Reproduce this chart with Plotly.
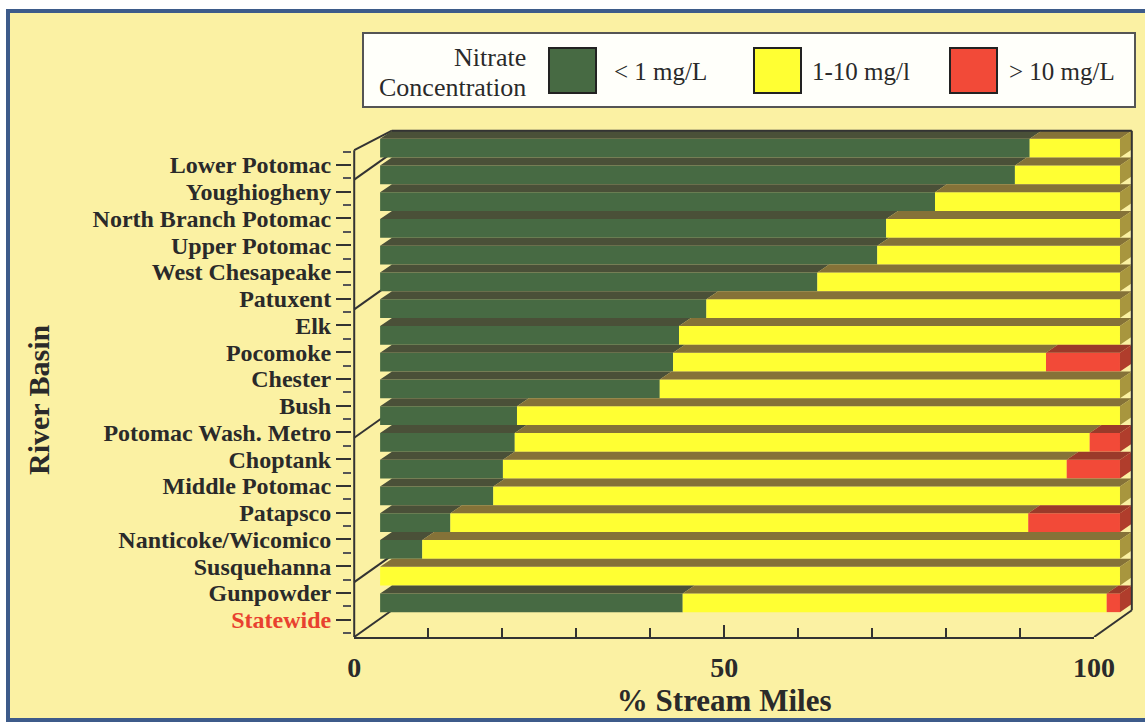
import plotly.graph_objects as go

# ---------------- data ----------------
basins = ["Lower Potomac", "Youghiogheny", "North Branch Potomac", "Upper Potomac",
          "West Chesapeake", "Patuxent", "Elk", "Pocomoke", "Chester", "Bush",
          "Potomac Wash. Metro", "Choptank", "Middle Potomac", "Patapsco",
          "Nanticoke/Wicomico", "Susquehanna", "Gunpowder", "Statewide"]
low_pct = [87.8, 85.8, 75.0, 68.4, 67.2, 59.1, 44.1, 40.4, 39.6, 37.8,
           18.5, 18.2, 16.6, 15.3, 9.5, 5.7, 0.0, 40.9]
mid_pct = [12.2, 14.2, 25.0, 31.6, 32.8, 40.9, 55.9, 59.6, 50.4, 62.2,
           81.5, 77.7, 76.2, 84.7, 78.1, 94.3, 100.0, 57.3]
high_pct = [0.0, 0.0, 0.0, 0.0, 0.0, 0.0, 0.0, 0.0, 10.0, 0.0,
            0.0, 4.1, 7.2, 0.0, 12.4, 0.0, 0.0, 1.8]
series_names = ["< 1 mg/L", "1-10 mg/l", "> 10 mg/L"]
legend_title = ["Nitrate", "Concentration"]
x_tick_vals = [0, 50, 100]
x_minor_step = 10
x_title = "% Stream Miles"
y_title = "River Basin"
highlight_basin = "Statewide"

# ---------------- style ----------------
W, H = 1145, 722
BG = "#fbf1a3"
TXT = "#2a2a2a"
front_colors = ["#476a43", "#ffff33", "#f24a38"]
top_colors = ["#4a5038", "#857238", "#9a3a2a"]
side_colors = ["#3e4a33", "#a8963e", "#b03d2c"]
SERIF = "Liberation Serif"

X_RANGE = [-3.8, 102.03]
Y_RANGE = [17.65, -1.68]
L, R, T, B = 352, 10, 120, 85
FRONT_X = -3.5          # front (axis) plane relative to bar plane
BAR_OFF, BAR_H = -0.98, 0.70
DX, DY = 1.6, 0.30      # bar depth
BOX_DX, BOX_DY = 5.1, 1.0

def pxx(p):
    return (p - L) / (W - L - R)

def pxy(p):
    return (H - B - p) / (H - T - B)

idx = list(range(len(basins)))
series = [low_pct, mid_pct, high_pct]
bases = []
acc = [0.0] * len(basins)
for s in series:
    bases.append(list(acc))
    acc = [a + v for a, v in zip(acc, s)]
totals = acc

fig = go.Figure()

# top faces and side faces (3D look), computed from data
for k, s in enumerate(series):
    xs, ys = [], []
    for i in idx:
        a = bases[k][i]
        b = a + s[i]
        if s[i] <= 0:
            continue
        yf = i + BAR_OFF
        yb = yf - DY
        xs += [a, b, b + DX, a + DX, a, None]
        ys += [yf, yf, yb, yb, yf, None]
    fig.add_trace(go.Scatter(x=xs, y=ys, fill="toself", fillcolor=top_colors[k],
                             mode="lines", line=dict(width=0, color=top_colors[k]),
                             hoverinfo="skip", showlegend=False))

for k in range(len(series)):
    xs, ys = [], []
    for i in idx:
        last = max(j for j in range(len(series)) if series[j][i] > 0)
        if last != k:
            continue
        e = totals[i]
        yf = i + BAR_OFF
        yb = yf - DY
        xs += [e, e + DX, e + DX, e, e, None]
        ys += [yf, yb, yb + BAR_H, yf + BAR_H, yf, None]
    if xs:
        fig.add_trace(go.Scatter(x=xs, y=ys, fill="toself", fillcolor=side_colors[k],
                                 mode="lines", line=dict(width=0, color=side_colors[k]),
                                 hoverinfo="skip", showlegend=False))

# front faces: the bars
for k, s in enumerate(series):
    fig.add_trace(go.Bar(y=idx, x=s, base=bases[k], orientation="h",
                         width=BAR_H, offset=BAR_OFF, name=series_names[k],
                         marker=dict(color=front_colors[k], line=dict(width=0)),
                         hoverinfo="skip", showlegend=False))

# invisible trace carrying the front tick axis
fig.add_trace(go.Scatter(x=[x_tick_vals[0], x_tick_vals[-1]], y=[Y_RANGE[0]] * 2,
                         xaxis="x2", yaxis="y", mode="markers",
                         marker=dict(opacity=0), hoverinfo="skip", showlegend=False))

span = X_RANGE[1] - X_RANGE[0]
d2_0 = (FRONT_X - X_RANGE[0]) / span
d2_1 = (FRONT_X + 100 - X_RANGE[0]) / span

ticktext = [f'<b><span style="color:#e8412f">{b}</span></b>' if b == highlight_basin else b
            for b in basins]
minor_y = [i - 0.5 for i in idx] + [idx[-1] + 0.5]

fig.update_layout(
    width=W, height=H,
    margin=dict(l=L, r=R, t=T, b=B, autoexpand=False),
    paper_bgcolor="white", plot_bgcolor="rgba(0,0,0,0)",
    barmode="overlay", showlegend=False,
    font=dict(family=SERIF, color=TXT),
    xaxis=dict(range=X_RANGE, domain=[0, 1], visible=False, fixedrange=True),
    xaxis2=dict(range=[0, 100], domain=[d2_0, d2_1], anchor="y", side="bottom",
                showline=True, linecolor="#333333", linewidth=2,
                ticks="inside", ticklen=12, tickwidth=2, tickcolor="#333333",
                tickmode="array", tickvals=x_tick_vals, ticklabelstandoff=4,
                minor=dict(ticks="inside", ticklen=9, tickwidth=1.5, tickcolor="#333333",
                           tickmode="linear", tick0=0, dtick=x_minor_step),
                tickfont=dict(family=SERIF, size=28, weight="bold", color=TXT),
                showgrid=False, zeroline=False,
                title=dict(text=x_title, standoff=8,
                           font=dict(family=SERIF, size=31, weight="bold", color=TXT))),
    yaxis=dict(range=Y_RANGE, showline=False, showgrid=False, zeroline=False,
               tickmode="array", tickvals=idx, ticktext=ticktext,
               ticks="outside", ticklen=15, tickwidth=2, tickcolor="#333333",
               minor=dict(ticks="outside", ticklen=8, tickwidth=1.5, tickcolor="#555555",
                          tickmode="array", tickvals=minor_y),
               tickfont=dict(family=SERIF, size=24, weight="bold", color=TXT),
               fixedrange=True),
)

shapes = []
# page background with frame
shapes.append(dict(type="rect", xref="paper", yref="paper",
                   x0=pxx(8), x1=pxx(1165), y0=pxy(720), y1=pxy(11),
                   fillcolor=BG, line=dict(color="#3d5b8a", width=4), layer="below"))

# 3D box lines
lc = dict(color="#333333", width=2)
top_back = BAR_OFF - DY
front_top = -0.55
shapes.append(dict(type="line", xref="x", yref="y", x0=FRONT_X, x1=FRONT_X,
                   y0=front_top, y1=Y_RANGE[0], line=lc))
shapes.append(dict(type="line", xref="x", yref="y", x0=FRONT_X, y0=front_top,
                   x1=FRONT_X + BOX_DX, y1=top_back, line=lc, layer="below"))
shapes.append(dict(type="line", xref="x", yref="y", x0=FRONT_X + BOX_DX, y0=top_back,
                   x1=100 + DX, y1=top_back, line=lc))
floor_back = Y_RANGE[0] - BOX_DY
shapes.append(dict(type="line", xref="x", yref="y", x0=100 + DX, y0=top_back,
                   x1=100 + DX, y1=floor_back, line=lc))
shapes.append(dict(type="line", xref="x", yref="y", x0=FRONT_X + 100, y0=Y_RANGE[0],
                   x1=100 + DX, y1=floor_back, line=lc))
for g in [0.55, 5.4, 10.2, 15.6, Y_RANGE[0]]:
    shapes.append(dict(type="line", xref="x", yref="y", x0=FRONT_X, y0=g,
                       x1=FRONT_X + BOX_DX, y1=g - BOX_DY, line=lc, layer="below"))

# legend box
shapes.append(dict(type="rect", xref="paper", yref="paper",
                   x0=pxx(363), x1=pxx(1135), y0=pxy(107), y1=pxy(33),
                   fillcolor="#fffffa", line=dict(color="#555555", width=2)))
sw_x = [549, 754, 950]
txt_x = [612, 810, 1007]
annotations = []
for k in range(len(series_names)):
    shapes.append(dict(type="rect", xref="paper", yref="paper",
                       x0=pxx(sw_x[k]), x1=pxx(sw_x[k] + 47), y0=pxy(93), y1=pxy(48),
                       fillcolor=front_colors[k], line=dict(color="#222222", width=2)))
    annotations.append(dict(xref="paper", yref="paper", x=pxx(txt_x[k]), y=pxy(71),
                            xanchor="left", yanchor="middle", showarrow=False,
                            text=series_names[k].replace("<", "&lt;").replace(">", "&gt;"),
                            font=dict(family=SERIF, size=25, color=TXT)))
for j, t in enumerate(legend_title):
    annotations.append(dict(xref="paper", yref="paper", x=pxx(528), y=pxy(57 + 30 * j),
                            xanchor="right", yanchor="middle", showarrow=False, text=t,
                            font=dict(family=SERIF, size=26, color=TXT)))
annotations.append(dict(xref="paper", yref="paper", x=pxx(38), y=pxy(400),
                        xanchor="center", yanchor="middle", showarrow=False,
                        text=y_title, textangle=-90,
                        font=dict(family=SERIF, size=30, weight="bold", color=TXT)))

fig.update_layout(shapes=shapes, annotations=annotations)
fig.write_html("out.html")
